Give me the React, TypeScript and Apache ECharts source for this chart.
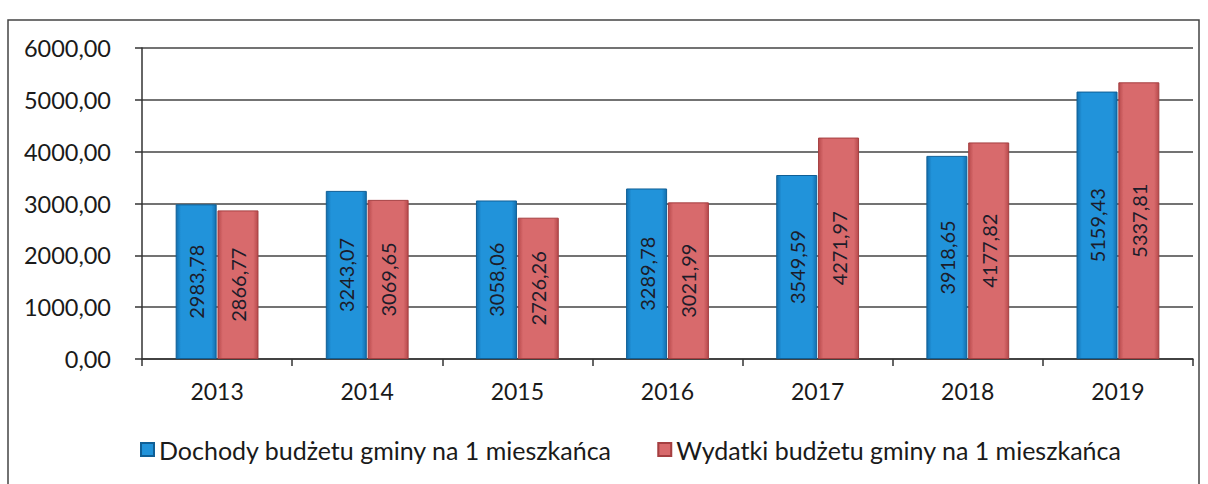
import React, { useEffect, useRef } from "react";
import * as echarts from "echarts";

const categories = ["2013", "2014", "2015", "2016", "2017", "2018", "2019"];
const dochody = [2983.78, 3243.07, 3058.06, 3289.78, 3549.59, 3918.65, 5159.43];
const wydatki = [2866.77, 3069.65, 2726.26, 3021.99, 4271.97, 4177.82, 5337.81];
const seriesNames = [
  "Dochody budżetu gminy na 1 mieszkańca",
  "Wydatki budżetu gminy na 1 mieszkańca",
];

const fmt = (v: number) => v.toFixed(2).replace(".", ",");
const FONT = "Lato";

function grad(edge: string, mid: string) {
  return new echarts.graphic.LinearGradient(0, 0, 1, 0, [
    { offset: 0, color: edge },
    { offset: 0.12, color: mid },
    { offset: 0.88, color: mid },
    { offset: 1, color: edge },
  ]);
}

export default function App() {
  const ref = useRef<HTMLDivElement>(null);
  useEffect(() => {
    document.body.style.margin = "0";
    const chart = echarts.init(ref.current!, null, { renderer: "svg" });
    const label = {
      show: true,
      position: "inside" as const,
      rotate: 90,
      formatter: (p: any) => fmt(p.value),
      fontFamily: FONT,
      fontSize: 20,
      color: "#1c1c2a",
    };
    chart.setOption({
      animation: false,
      backgroundColor: "#ffffff",
      graphic: [
        {
          type: "rect",
          shape: { x: 8, y: 20, width: 1191, height: 472 },
          style: { fill: "none", stroke: "#444", lineWidth: 1.5 },
          silent: true,
        },
      ],
      grid: { left: 142, right: 15, top: 48, bottom: 125, containLabel: false },
      legend: {
        top: 432,
        left: 135,
        itemWidth: 13,
        itemHeight: 13,
        itemGap: 45,
        icon: "rect",
        textStyle: { fontFamily: FONT, fontSize: 25, color: "#1a1a1a" },
        data: seriesNames,
      },
      xAxis: {
        type: "category",
        data: categories,
        axisLine: { lineStyle: { color: "#333", width: 1.5 } },
        axisTick: { show: true, length: 7, lineStyle: { color: "#333", width: 1.5 } },
        axisLabel: { fontFamily: FONT, fontSize: 23, color: "#1a1a1a", margin: 20 },
      },
      yAxis: {
        type: "value",
        min: 0,
        max: 6000,
        interval: 1000,
        axisLine: { show: true, lineStyle: { color: "#333", width: 1.5 } },
        axisTick: { show: true, length: 7, lineStyle: { color: "#333", width: 1.5 } },
        axisLabel: {
          fontFamily: FONT,
          fontSize: 23.5,
          color: "#1a1a1a",
          margin: 31,
          formatter: (v: number) => fmt(v),
        },
        splitLine: { lineStyle: { color: "#444", width: 1.5 } },
      },
      series: [
        {
          name: seriesNames[0],
          type: "bar",
          data: dochody,
          barWidth: 41,
          barGap: "2%",
          itemStyle: {
            color: grad("#136fae", "#2193da"),
            borderColor: "#0f5f96",
            borderWidth: 1,
          },
          label,
        },
        {
          name: seriesNames[1],
          type: "bar",
          data: wydatki,
          barWidth: 41,
          itemStyle: {
            color: grad("#b84a4c", "#d86a6c"),
            borderColor: "#a53f41",
            borderWidth: 1,
          },
          label,
        },
      ],
    });
    return () => chart.dispose();
  }, []);
  return <div ref={ref} style={{ width: 1208, height: 484 }} />;
}
